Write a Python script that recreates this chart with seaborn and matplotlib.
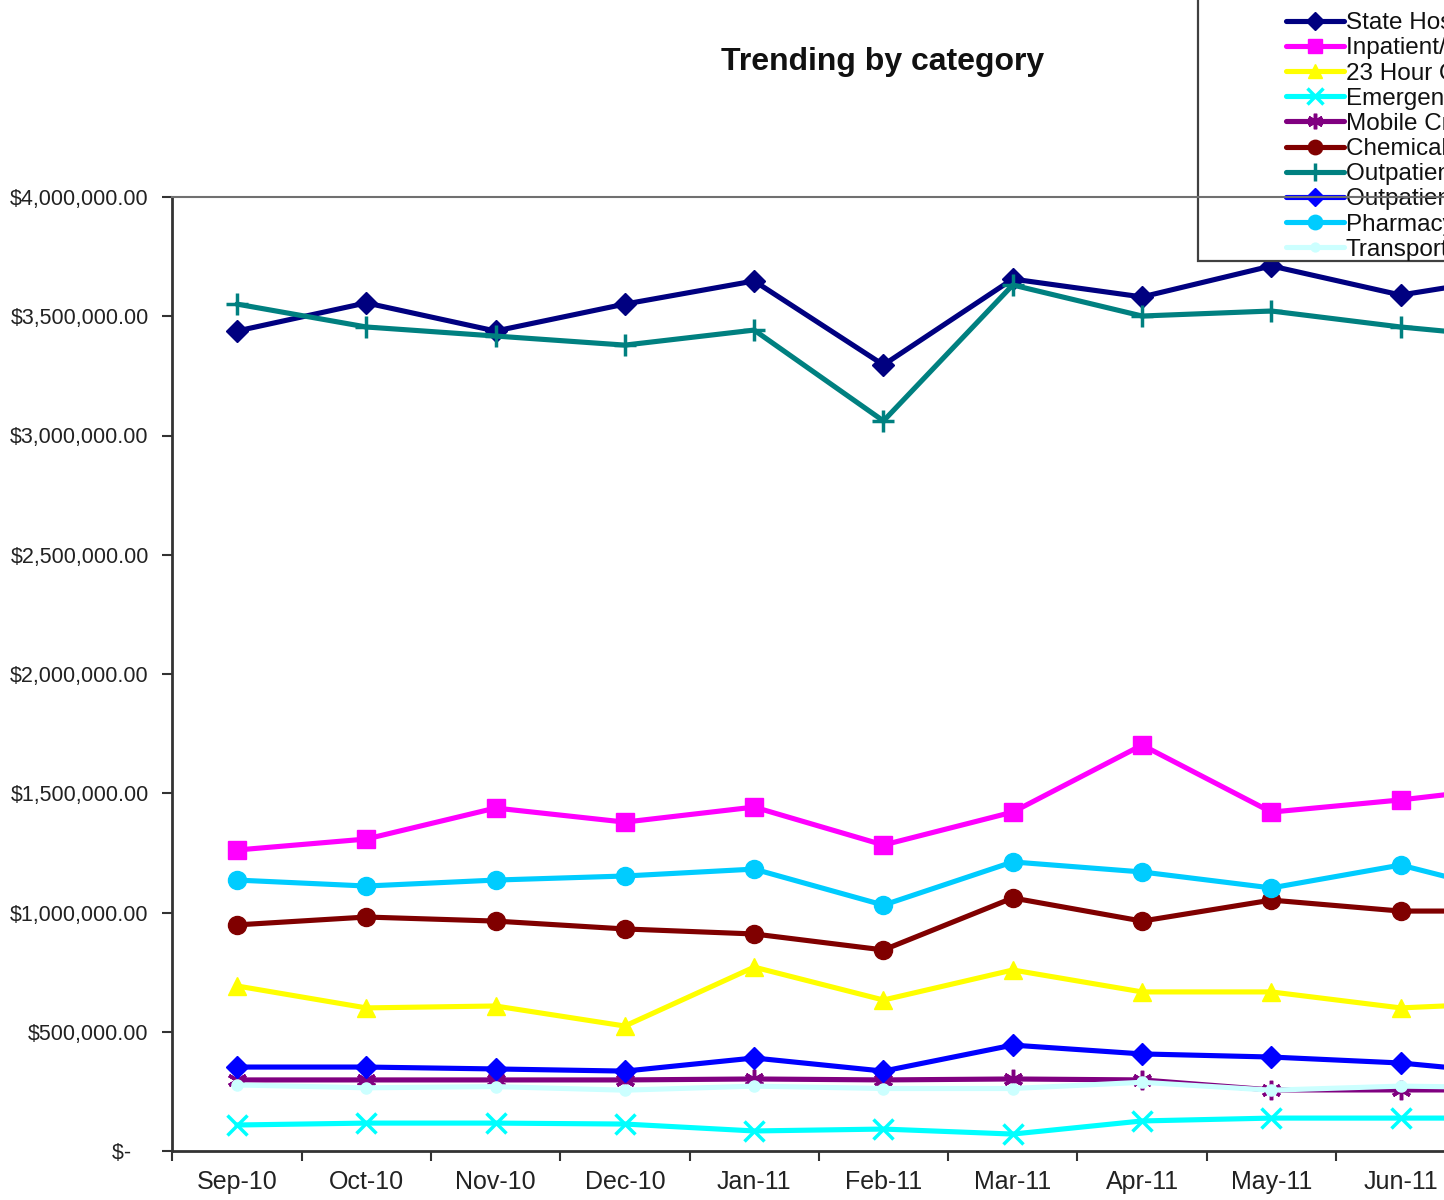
import matplotlib
matplotlib.use("Agg")
import matplotlib.pyplot as plt
import seaborn as sns
import pandas as pd
from matplotlib.patches import Rectangle
from matplotlib.ticker import FixedLocator, FuncFormatter

sns.set_theme(style="white")
plt.rcParams['font.family'] = ['Liberation Sans', 'DejaVu Sans']

months = ["Sep-10", "Oct-10", "Nov-10", "Dec-10", "Jan-11", "Feb-11",
          "Mar-11", "Apr-11", "May-11", "Jun-11", "Jul-11"]

series_names = ["State Hospital", "Inpatient/Acute Care", "23 Hour Observation",
                "Emergency Services", "Mobile Crisis", "Chemical Dependency",
                "Outpatient Services", "Outpatient Medical", "Pharmacy",
                "Transportation"]

state_hospital = [3438000, 3556000, 3438000, 3551000, 3648000, 3296000, 3656000, 3581000, 3711000, 3589000, 3676000]
inpatient = [1262000, 1308000, 1438000, 1379000, 1442000, 1283000, 1421000, 1702000, 1421000, 1472000, 1535000]
hour23 = [692000, 600000, 608000, 524000, 771000, 633000, 759000, 667000, 667000, 600000, 624000]
emergency = [109000, 117000, 117000, 113000, 84000, 92000, 71000, 126000, 138000, 138000, 138000]
mobile_crisis = [298000, 298000, 298000, 298000, 302000, 298000, 302000, 298000, 256000, 256000, 256000]
chemical = [948000, 981000, 964000, 931000, 910000, 843000, 1061000, 964000, 1052000, 1006000, 1006000]
outpatient1 = [3551000, 3455000, 3417000, 3379000, 3442000, 3061000, 3631000, 3501000, 3522000, 3455000, 3404000]
outpatient2 = [352000, 352000, 344000, 335000, 390000, 335000, 444000, 407000, 394000, 369000, 318000]
pharmacy = [1136000, 1111000, 1136000, 1153000, 1182000, 1031000, 1212000, 1170000, 1103000, 1199000, 1061000]
transportation = [277000, 265000, 270000, 255000, 272000, 262000, 262000, 288000, 255000, 272000, 265000]

y_ticks = [0, 500000, 1000000, 1500000, 2000000, 2500000, 3000000, 3500000, 4000000]

values = [state_hospital, inpatient, hour23, emergency, mobile_crisis,
          chemical, outpatient1, outpatient2, pharmacy, transportation]
colors = ["#000080", "#FF00FF", "#FFFF00", "#00FFFF", "#800080",
          "#800000", "#008080", "#0000FF", "#00CCFF", "#CCFFFF"]
markers = ["D", "s", "^", "x", (6, 2, 0), "o", "+", "D", "o", "o"]
msizes = [11, 13, 13, 14, 14, 13, 16, 11, 13, 8]

rows = []
for name, vals in zip(series_names, values):
    for i, (m, v) in enumerate(zip(months, vals)):
        rows.append({"series": name, "idx": i, "month": m, "value": v})
df = pd.DataFrame(rows)

W, H = 1444, 1200
fig = plt.figure(figsize=(W / 100, H / 100), dpi=100)
left_px, top_px, bottom_px, step_px = 172.3, 197, 1151, 129.3
nslots = 12
ax = fig.add_axes([left_px / W, 1 - bottom_px / H,
                   nslots * step_px / W, (bottom_px - top_px) / H])

for name, col, mk, ms in zip(series_names, colors, markers, msizes):
    sub = df[df["series"] == name]
    filled = mk not in ("x", "+", (6, 2, 0))
    kw = dict(markeredgecolor=col, markerfacecolor=col if filled else "none",
              markeredgewidth=2.5 if not filled else 1)
    sns.lineplot(data=sub, x="idx", y="value", ax=ax, color=col, marker=mk,
                 markersize=ms, linewidth=3.7, label=name, legend=False, **kw)

ax.set_xlim(-0.5, nslots - 0.5)
ax.set_ylim(0, 4000000)
ax.set_xlabel("")
ax.set_ylabel("")

ax.xaxis.set_major_locator(FixedLocator([i - 0.5 for i in range(nslots + 1)]))
ax.xaxis.set_major_formatter(FuncFormatter(lambda v, p: ""))
ax.xaxis.set_minor_locator(FixedLocator(list(range(len(months)))))
ax.xaxis.set_minor_formatter(FuncFormatter(
    lambda v, p: months[int(round(v))] if 0 <= int(round(v)) < len(months) else ""))
ax.tick_params(axis="x", which="major", direction="out", length=7, width=1.5,
               color="#333333", bottom=True)
ax.tick_params(axis="x", which="minor", length=0, pad=14, labelsize=18,
               labelcolor="#222222", bottom=True)

ax.set_yticks(y_ticks)
ax.set_yticklabels(["$-   " if v == 0 else "${:,.2f}".format(v) for v in y_ticks])
ax.tick_params(axis="y", direction="out", length=7, width=1.5, color="#333333",
               left=True, labelsize=15.5, labelcolor="#222222", pad=10)

for s in ["left", "bottom"]:
    ax.spines[s].set_color("#333333")
    ax.spines[s].set_linewidth(2)
ax.spines["top"].set_color("#707070")
ax.spines["top"].set_linewidth(1.5)
ax.spines["right"].set_visible(False)
for sp in ax.spines.values():
    sp.set_zorder(3)

fig.text(883 / W, 1 - 62 / H, "Trending by category", ha="center", va="center",
         fontsize=23, fontweight="bold", color="#111111")

# legend box
box = Rectangle((1198 / W, 1 - 261 / H), 0.3, 0.3, transform=fig.transFigure,
                facecolor="white", edgecolor="#404040", linewidth=1.6,
                clip_on=False, zorder=2.2)
ax.add_patch(box)

handles, labels = ax.get_legend_handles_labels()
leg = ax.legend(handles, labels, loc="upper left",
                bbox_to_anchor=(1274 / W, 1 - 0 / H), bbox_transform=fig.transFigure,
                frameon=False, fontsize=17.5, labelspacing=0.13, handlelength=2.4,
                handletextpad=0.05, borderpad=0, markerscale=0.8)
for t in leg.get_texts():
    t.set_color("#111111")
leg.set_zorder(2.4)

fig.savefig("out.png", dpi=100, facecolor="white")
